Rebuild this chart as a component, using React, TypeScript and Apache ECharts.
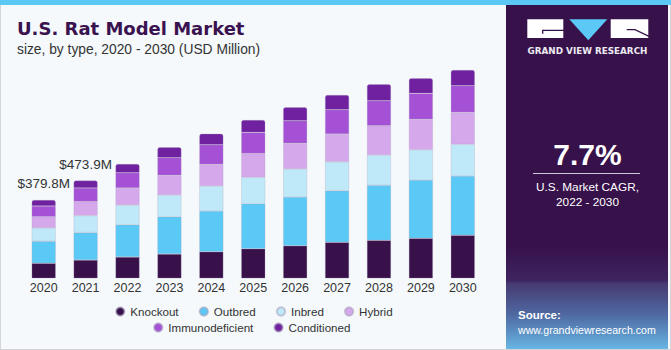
import React, { useEffect, useRef } from "react";
import * as echarts from "echarts";

const years = ["2020", "2021", "2022", "2023", "2024", "2025", "2026", "2027", "2028", "2029", "2030"];
const knockout = [72.8, 88.7, 103.3, 117.8, 129.0, 143.6, 158.1, 174.6, 184.3, 194.0, 208.5];
const outbred = [106.7, 133.1, 156.6, 180.9, 197.4, 218.2, 236.2, 250.2, 266.7, 282.7, 287.6];
const inbred = [64.5, 82.4, 95.5, 105.2, 121.2, 128.0, 135.8, 140.6, 146.9, 146.9, 153.7];
const hybrid = [54.8, 67.9, 82.4, 95.5, 105.2, 115.4, 124.6, 134.3, 142.1, 147.4, 155.2];
const immunodeficient = [51.9, 66.4, 74.2, 85.4, 95.1, 102.8, 109.6, 117.8, 121.2, 126.1, 129.0];
const conditioned = [29.1, 35.4, 42.2, 50.4, 53.3, 59.7, 65.0, 71.3, 79.5, 72.7, 76.1];
const totalLabels = ["$379.8M", "$473.9M"];

const seriesNames = ["Knockout", "Outbred", "Inbred", "Hybrid", "Immunodeficient", "Conditioned"];
const seriesData = [knockout, outbred, inbred, hybrid, immunodeficient, conditioned];
const colors = ["#38104a", "#5bc9f5", "#bfe9f9", "#d5a8ec", "#a551d6", "#6f21a0"];

export default function App() {
  const ref = useRef<HTMLDivElement>(null);
  useEffect(() => {
    if (!ref.current) return;
    const chart = echarts.init(ref.current, null, { renderer: "svg" });
    const series: any[] = seriesNames.map((name, si) => {
      const isTop = si === seriesNames.length - 1;
      return {
        name,
        type: "bar",
        stack: "total",
        barWidth: 24,
        itemStyle: {
          color: colors[si],
          borderColor: "rgba(170,160,185,0.55)",
          borderWidth: 0.5,
          borderRadius: isTop ? [2, 2, 0, 0] : 0,
        },
        data: seriesData[si].map((v, i) => {
          if (isTop && i < totalLabels.length) {
            return {
              value: v,
              label: {
                show: true,
                position: "top",
                distance: 9,
                formatter: totalLabels[i],
                fontFamily: "Liberation Sans",
                fontSize: 13.5,
                color: "#333333",
              },
            };
          }
          return v;
        }),
      };
    });

    const legendCommon = {
      orient: "horizontal",
      padding: 0,
      itemWidth: 10,
      itemHeight: 8.5,
      itemGap: 20,
      icon: "circle",
      textStyle: { fontFamily: "Liberation Sans", fontSize: 11.6, color: "#333333" },
    };

    chart.setOption({
      animation: false,
      backgroundColor: "#f5f9fc",
      color: colors,
      grid: { left: 22.75, right: 187.25, top: 30.9, bottom: 71.7, containLabel: false },
      xAxis: {
        type: "category",
        data: years,
        axisLine: { show: false },
        axisTick: { show: false },
        axisLabel: {
          margin: 3,
          fontFamily: "Liberation Sans",
          fontSize: 12.5,
          color: "#333333",
        },
      },
      yAxis: {
        type: "value",
        min: 0,
        max: 1200,
        show: false,
        splitLine: { show: false },
      },
      legend: [
        { ...legendCommon, left: 115, top: 305.5, data: seriesNames.slice(0, 4) },
        { ...legendCommon, left: 153, top: 321.5, data: seriesNames.slice(4) },
      ],
      graphic: [
        { type: "rect", shape: { x: 0, y: 0, width: 671, height: 5 }, style: { fill: "#5bc8f5" }, z: 1 },
        { type: "line", shape: { x1: 0.5, y1: 5, x2: 0.5, y2: 350 }, style: { stroke: "#d2d4d8", lineWidth: 1 }, z: 1 },
        { type: "line", shape: { x1: 0, y1: 349.5, x2: 671, y2: 349.5 }, style: { stroke: "#d2d4d8", lineWidth: 1 }, z: 1 },
        { type: "line", shape: { x1: 670.5, y1: 5, x2: 670.5, y2: 350 }, style: { stroke: "#d2d4d8", lineWidth: 1 }, z: 1 },
        // right panel
        {
          type: "rect",
          shape: { x: 506, y: 5, width: 162, height: 344 },
          style: {
            fill: new echarts.graphic.LinearGradient(0, 0, 0, 1, [
              { offset: 0, color: "#37114a" },
              { offset: 0.7, color: "#37114a" },
              { offset: 0.8, color: "#3e2460" },
              { offset: 0.81, color: "#473a72" },
              { offset: 0.9, color: "#4f69a2" },
              { offset: 1, color: "#67b6e4" },
            ]),
          },
          z: 1,
        },
        // logo
        { type: "rect", shape: { x: 527.3, y: 19.3, width: 36, height: 18.7 }, style: { fill: "#ffffff" }, z: 2 },
        {
          type: "polyline",
          shape: { points: [[564, 30.3], [542.7, 30.3], [542.7, 33.7]] },
          style: { stroke: "#37114a", lineWidth: 1.3, fill: null },
          z: 3,
        },
        {
          type: "polygon",
          shape: { points: [[569.3, 19.3], [607.3, 19.3], [588.3, 40.3]] },
          style: { fill: "#5bc8f5" },
          z: 2,
        },
        { type: "rect", shape: { x: 610.7, y: 19.3, width: 37.6, height: 18.7 }, style: { fill: "#ffffff" }, z: 2 },
        {
          type: "polyline",
          shape: { points: [[626.7, 29.7], [635, 29.7], [649, 36.3]] },
          style: { stroke: "#37114a", lineWidth: 1.3, fill: null },
          z: 3,
        },
        {
          type: "text",
          x: 587.5,
          y: 50.7,
          style: {
            text: "GRAND VIEW RESEARCH",
            fill: "#ecebf2",
            font: "bold 8.8px 'DejaVu Sans'",
            align: "center",
            verticalAlign: "middle",
          },
          z: 3,
        },
        {
          type: "text",
          x: 587.5,
          y: 154.5,
          style: {
            text: "7.7%",
            fill: "#ffffff",
            font: "bold 30px 'Liberation Sans'",
            align: "center",
            verticalAlign: "middle",
          },
          z: 3,
        },
        {
          type: "line",
          shape: { x1: 533, y1: 173.5, x2: 640, y2: 173.5 },
          style: { stroke: "#cfc7da", lineWidth: 1 },
          z: 3,
        },
        {
          type: "text",
          x: 587.5,
          y: 187,
          style: {
            text: "U.S. Market CAGR,",
            fill: "#ffffff",
            font: "11.8px 'Liberation Sans'",
            align: "center",
            verticalAlign: "middle",
          },
          z: 3,
        },
        {
          type: "text",
          x: 587.5,
          y: 202,
          style: {
            text: "2022 - 2030",
            fill: "#ffffff",
            font: "11.8px 'Liberation Sans'",
            align: "center",
            verticalAlign: "middle",
          },
          z: 3,
        },
        {
          type: "text",
          x: 518,
          y: 315,
          style: {
            text: "Source:",
            fill: "#ffffff",
            font: "bold 11.5px 'Liberation Sans'",
            align: "left",
            verticalAlign: "middle",
          },
          z: 3,
        },
        {
          type: "text",
          x: 518,
          y: 330,
          style: {
            text: "www.grandviewresearch.com",
            fill: "#ffffff",
            font: "10.6px 'Liberation Sans'",
            align: "left",
            verticalAlign: "middle",
          },
          z: 3,
        },
        // titles
        {
          type: "text",
          x: 17,
          y: 28.6,
          style: {
            text: "U.S. Rat Model Market",
            fill: "#3a1250",
            font: "bold 18px 'DejaVu Sans'",
            align: "left",
            verticalAlign: "middle",
          },
          z: 3,
        },
        {
          type: "text",
          x: 17,
          y: 49.3,
          style: {
            text: "size, by type, 2020 - 2030 (USD Million)",
            fill: "#333333",
            font: "13.8px 'Liberation Sans'",
            align: "left",
            verticalAlign: "middle",
          },
          z: 3,
        },
      ],
      series,
    });
    return () => chart.dispose();
  }, []);
  return (
    <div
      ref={ref}
      style={{ position: "fixed", left: 0, top: 0, width: 671, height: 350 }}
    />
  );
}
